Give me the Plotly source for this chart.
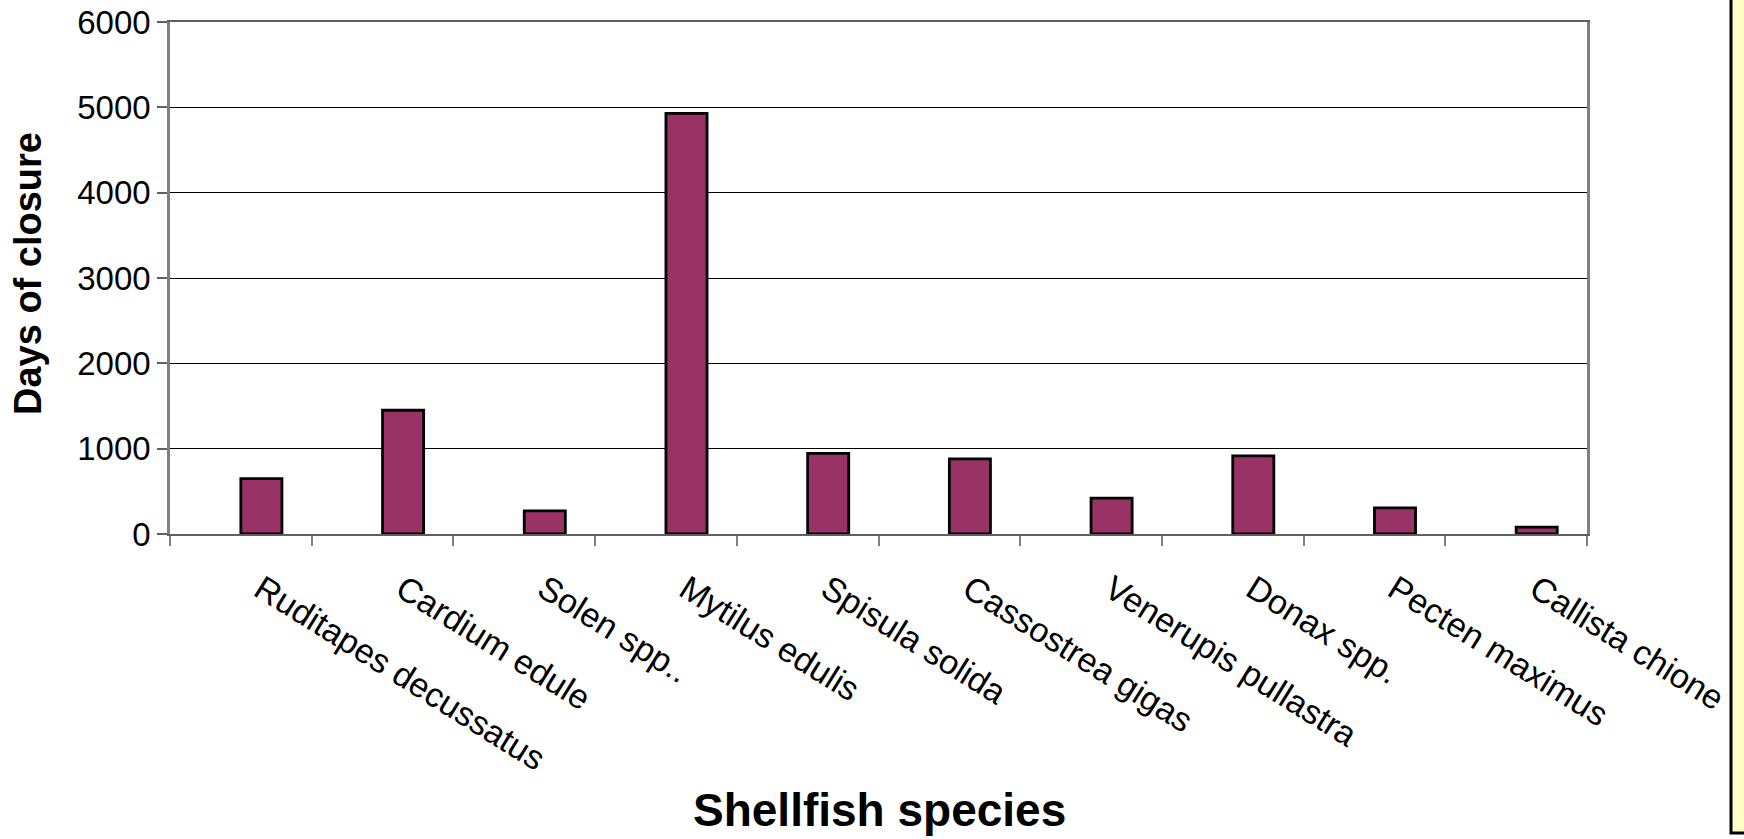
import plotly.graph_objects as go

species = ["Ruditapes decussatus", "Cardium edule", "Solen spp..", "Mytilus edulis",
           "Spisula solida", "Cassostrea gigas", "Venerupis pullastra", "Donax spp.",
           "Pecten maximus", "Callista chione"]
days_closed = [650, 1450, 270, 4930, 945, 880, 420, 915, 305, 80]
y_ticks = [0, 1000, 2000, 3000, 4000, 5000, 6000]

W, H = 1744, 839
# plot area in page pixels
px0, px1, py0, py1 = 170, 1587, 22, 534
L, T = px0, py0
R, B = W - px1, H - py1
pw, ph = px1 - px0, py1 - py0

def px_x(x):
    return (x - px0) / pw

def px_y(y):
    return (py1 - y) / ph

font = "Liberation Sans, Arial, sans-serif"

# bars sit in the right half of each category (second slot of a grouped chart)
fig = go.Figure(go.Bar(
    x=species, y=days_closed,
    marker=dict(color="#993366", line=dict(color="black", width=2.8)),
    width=0.29, offset=0,
))

fig.update_layout(
    width=W, height=H,
    margin=dict(l=L, r=R, t=T, b=B),
    plot_bgcolor="white", paper_bgcolor="white",
    showlegend=False,
    font=dict(family=font, size=32, color="black"),
)

fig.update_xaxes(
    automargin=False,
    tickangle=32, tickson="boundaries", ticks="outside", ticklen=10,
    tickcolor="#808080", tickwidth=1.5,
    showline=True, linecolor="#606060", linewidth=2, mirror=True,
    showgrid=False, range=[-0.5, 9.5], ticklabelstandoff=20, ticklabelshift=20,
    tickfont=dict(size=34),
)
fig.update_yaxes(
    automargin=False, ticklabeloverflow="allow",
    range=[0, 6000], tickvals=y_ticks, ticks="outside", ticklen=10,
    tickcolor="#606060", tickwidth=1.5,
    showline=True, linecolor="#808080", linewidth=2.5, mirror=True,
    showgrid=True, gridcolor="black", gridwidth=1, zeroline=False,
    tickfont=dict(size=33),
)

# axis titles
fig.add_annotation(text="<b>Shellfish species</b>", xref="paper", yref="paper",
                   x=px_x(879), y=px_y(810), showarrow=False,
                   xanchor="center", yanchor="middle", font=dict(size=46))
fig.add_annotation(text="<b>Days of closure</b>", xref="paper", yref="paper",
                   x=px_x(28), y=px_y(274), showarrow=False, textangle=-90,
                   xanchor="center", yanchor="middle", font=dict(size=38))

# yellow strip at right edge of the page
fig.add_shape(type="rect", xref="paper", yref="paper",
              x0=px_x(1731), x1=px_x(1770), y0=px_y(833), y1=px_y(-20),
              fillcolor="#FFFFCC", line=dict(color="black", width=3), layer="below")

fig.write_html("out.html", config={"displayModeBar": False},
               post_script="document.body.style.margin='0';document.body.style.overflow='hidden';")
